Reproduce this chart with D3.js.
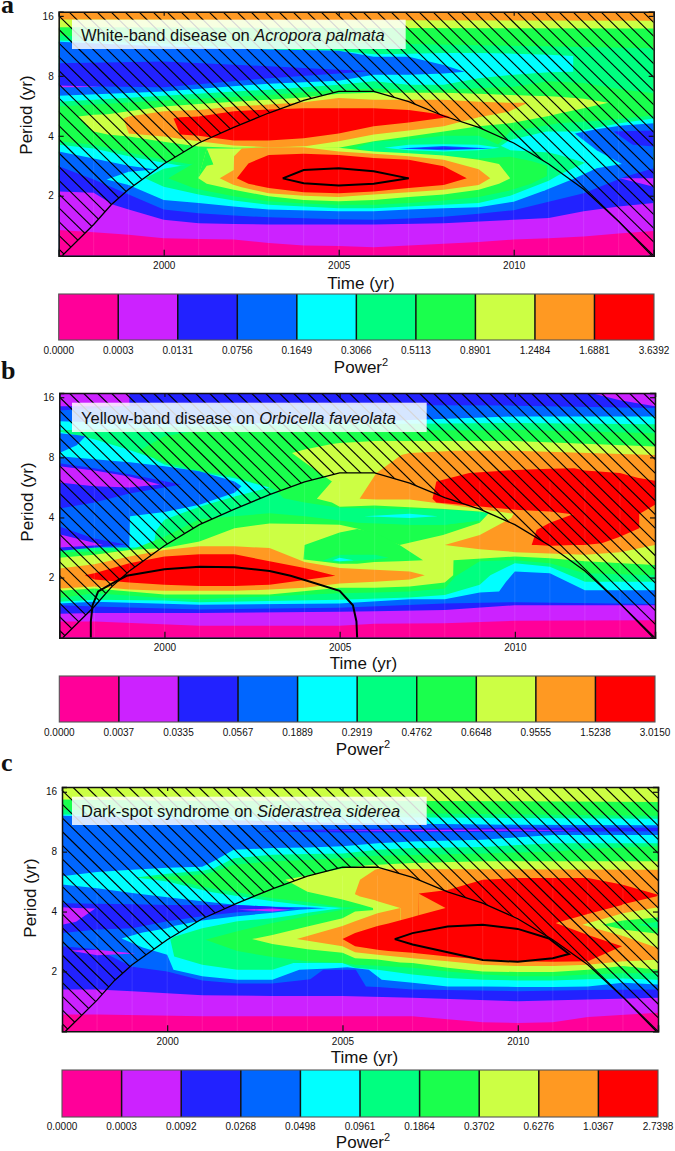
<!DOCTYPE html>
<html><head><meta charset="utf-8">
<script src="https://cdn.jsdelivr.net/npm/d3@7"></script>
<style>html,body{margin:0;padding:0;background:#fff}svg{display:block}text{font-family:"Liberation Sans",Arial,sans-serif;fill:#111}</style>
</head><body><svg id="c" width="675" height="1151"></svg>
<script>
// power classes: colour of each band, lowest to highest
const bandColors = ["#ff0099","#cc22ff","#2222ff","#0066ff","#00ffff","#00ff80","#1aff4d","#ccff44","#ff9922","#ff0000"];
const yearTicks = [2000,2005,2010];
const periodTicks = [1,2,3,4]; // log2(period): 2,4,8,16 yr
// cone of influence: year / log2(period)
const coneYears = [1997.1,1998,1998.5,1999,2000,2001,2002,2003,2004,2005,2006,2007,2008,2009,2010,2011,2012,2013,2013.95];
const coneOct   = [0,.52,.85,1.11,1.53,1.88,2.14,2.38,2.59,2.74,2.74,2.57,2.33,2.14,1.88,1.53,1.11,.57,0];
const legendA = ["0.0000","0.0003","0.0131","0.0756","0.1649","0.3066","0.5113","0.8901","1.2484","1.6881","3.6392"];
const legendB = ["0.0000","0.0037","0.0335","0.0567","0.1889","0.2919","0.4762","0.6648","0.9555","1.5238","3.0150"];
const legendC = ["0.0000","0.0003","0.0092","0.0268","0.0498","0.0961","0.1864","0.3702","0.6276","1.0367","2.7398"];
// contour regions, painted in order. Each: [class, [[year, hi]] or [[year, lo, hi]]] in log2(period)
const layersA = [
[8,[[1997,4.2],[2014,4.2]]],[7,[[1997,3.94],[2014,3.92]]],[6,[[1997,3.81],[2014,3.79]]],
[5,[[1997,3.67],[2005,3.55],[2010,3.5],[2014,3.46]]],
[4,[[1997,2.57,3.59],[2000,2.67,3.54],[2003,2.77,3.44],[2005,2.85,3.42],[2006,2.91,3.36],[2007,2.85,3.37],[2008,2.85,3.38],[2009,2.96,3.38],[2010,3.02,3.37],[2011,3.06,3.35],[2011.7,3.07,3.33]]],
[3,[[1997,2.67,3.57],[2000,2.74,3.49],[2003,2.87,3.44],[2005,2.92,3.42],[2006,3.02,3.32],[2007,3.02,3.32],[2008,3.04,3.18],[2008.6,3.07,3.07]]],
[2,[[1997,2.83,3.21],[2000,2.81,3.24],[2003,2.96,3.16],[2005,3.04,3.1],[2006,3.08,3.08]]],
[1,[[1997,2.81,2.84],[1997.5,2.81,2.83],[1998.2,2.82,2.82]]],
[6,[[1997,2.49],[2000,2.59],[2003,2.68],[2005,2.77],[2006,2.79],[2007,2.76],[2008,2.77],[2010,2.82],[2011,2.91],[2012,2.88],[2013,2.78],[2014,2.71]]],
[5,[[1997,1.91],[1998,1.85],[1999,1.72],[2000,1.6],[2001,1.5],[2009,1.5],[2009.9,2.07],[2011.3,2.21],[2012.6,2.26],[2014,2.34]]],
[4,[[1997,1.85],[1998,1.79],[1999,1.66],[2000,1.55],[2000.5,1.5],[2009,1.6],[2009.9,1.93],[2010.94,2.07],[2011.8,2.07],[2013.03,2.21],[2014,2.29]]],
[3,[[1997,1.74],[1998,1.62],[1999,1.5],[2000,1.42],[2001,1.4],[2005,1.4],[2010,1],[2010.9,1.09],[2011.75,1.29],[2012.37,1.46],[2013.09,1.53],[2014,1.5]]],
[3,[[2011.75,2.04,2.04],[2012.37,1.76,2.11],[2013.09,1.53,2.17],[2014,1.4,2.21]]],
[2,[[2012.85,2.07,2.07],[2013.4,1.85,2.08],[2014,1.82,2.09]]],
[2,[[1997,1.49],[1998,1.27],[1999,1.02],[2000,.77],[2001,.71],[2002,.67],[2003,.64],[2005,.61],[2006,.6],[2007,.62],[2008,.65],[2009,.7],[2010,.76],[2011,.9],[2012,1.04],[2013.2,1.32],[2014,1.46]]],
[1,[[2013.03,1.29,1.29],[2014,1.15,1.29]]],
[1,[[1997,1.07],[1998,1.05],[1998.56,.85],[1999,.77],[2000,.6],[2001,.54],[2002,.53],[2003,.52],[2006,.52],[2008,.54],[2010,.6],[2011,.63],[2012,.74],[2013,.82],[2014,.88]]],
[0,[[1997,.43],[1998,.39],[1999,.35],[2000,.29],[2001,.28],[2002,.27],[2003,.21],[2004,.17],[2005,.16],[2006,.14],[2007,.17],[2008,.2],[2009,.23],[2010,.27],[2011,.29],[2012,.32],[2013,.37],[2014,.41]]],
[4,[[1998.37,1.27,1.27],[1999,1.18,1.4],[2000,.93,1.45],[2001,.88,1.5],[2002,.82,1.6],[2003,.77,1.6],[2005,.74,1.6],[2006,.74,1.6],[2007,.77,1.6],[2008,.79,1.6],[2009,.81,1.6],[2010,.9,1.6],[2010.9,1.09,1.6]]],
[5,[[1999.47,1.29,1.29],[2000,1.15,1.45],[2001,1.02,1.55],[2002,.92,1.6],[2003,.85,1.6],[2004,.82,1.6],[2005,.79,1.6],[2005.47,.79,1.8],[2006,.79,1.9],[2007,.82,1.94],[2008,.85,2],[2009,.88,2],[2009.9,1,1.76],[2011,1.25,1.72],[2011.3,1.35,1.68],[2012.04,1.55,1.55]]],
[6,[[2000.13,1.29,1.29],[2000.85,1.13,1.54],[2001.23,1.08,1.81],[2002,.99,1.85],[2003,.91,1.85],[2004,.87,1.85],[2005,.85,1.8],[2005.47,.85,1.8],[2006,.85,1.72],[2007,.88,1.68],[2008,.92,1.66],[2009,.98,1.62],[2009.9,1.09,1.65],[2010.5,1.2,1.58],[2010.95,1.33,1.5]]],
[4,[[2006.3,1.8,1.8],[2007,1.76,1.85],[2008,1.74,1.86],[2009,1.76,1.85],[2009.6,1.8,1.8]]],
[3,[[2006.7,1.79,1.79],[2008,1.76,1.83],[2009.4,1.79,1.79]]],
[2,[[2006.9,1.79,1.79],[2008,1.78,1.81],[2009.2,1.79,1.79]]],
[7,[[1997.56,2.32,2.32],[1998,2.07,2.35],[1998.4,2.02,2.36],[1999,1.99,2.41],[2000,1.9,2.49],[2001,1.82,2.53],[2002,1.8,2.57],[2003,1.8,2.6],[2004,1.8,2.64],[2005,1.8,2.7],[2006,1.91,2.72],[2007,1.99,2.72],[2008,2.07,2.72],[2009,2.16,2.7],[2009.9,2.21,2.68],[2011,2.33,2.66],[2011.3,2.37,2.65],[2012,2.46,2.62],[2012.7,2.55,2.55]]],
[8,[[1998.85,2.29,2.29],[1999,2.04,2.32],[2000,1.99,2.41],[2001,1.91,2.43],[2002,1.84,2.49],[2003,1.81,2.52],[2004,1.82,2.56],[2005,1.91,2.63],[2006,2.02,2.6],[2007,2.09,2.6],[2008,2.16,2.6],[2009,2.31,2.57],[2009.85,2.4,2.55],[2010.4,2.55,2.55]]],
[9,[[2000.28,2.29,2.29],[2000.47,2.02,2.31],[2001,2,2.32],[2002,1.92,2.41],[2003,1.92,2.44],[2004,1.96,2.46],[2005,2.04,2.46],[2006,2.16,2.46],[2007,2.22,2.43],[2008,2.3,2.35],[2008.2,2.31,2.31]]],
[7,[[2000.99,1.29,1.29],[2001.23,1.2,1.79],[2002,1.1,1.79],[2003,.99,1.8],[2004,.93,1.82],[2005,.91,1.8],[2006,.93,1.74],[2007,.98,1.71],[2008,1.02,1.67],[2009,1.1,1.6],[2009.58,1.2,1.53],[2009.9,1.29,1.29]]],
[6,[[2000.99,1.3,1.3],[2001.23,1.5,1.79],[2001.42,1.52,1.52]]],
[8,[[2001.6,1.29,1.29],[2002,1.18,1.43],[2002.01,1.18,1.66],[2002.23,1.14,1.79],[2003,1.04,1.81],[2004,1,1.81],[2005,.98,1.74],[2006,1.02,1.7],[2007,1.06,1.66],[2008,1.1,1.6],[2009,1.18,1.44],[2009.33,1.29,1.29]]],
[9,[[2002.09,1.29,1.29],[2002.42,1.2,1.54],[2003,1.13,1.68],[2004,1.06,1.7],[2005,1.04,1.68],[2006,1.07,1.63],[2007,1.13,1.6],[2008,1.18,1.49],[2008.66,1.29,1.29]]]
];
const contourA = [[2003.4,1.29],[2004,1.43],[2005,1.46],[2006,1.41],[2007,1.29],[2006,1.2],[2005,1.17],[2004,1.21],[2003.4,1.29]];

const layersB = [
[2,[[1997,4.2],[2014,4.2]]],
[1,[[1997,3.85,4.2],[1999,3.85,4.2]]],
[1,[[2012.1,4.08,4.2],[2013,3.95,4.2],[2014,3.85,4.2]]],
[3,[[1997,3.78],[1999,3.85],[2000,3.88],[2010,3.86],[2014,3.82]]],
[4,[[1997,3.6],[2000,3.55],[2005,3.58],[2010,3.68],[2014,3.68]]],
[5,[[1997,3.45],[2000,3.5],[2005,3.55],[2010,3.57],[2014,3.55]]],
[6,[[1999.25,3.1,3.1],[2000,2.92,3.35],[2001,2.78,3.45],[2002,2.68,3.45],[2003,2.5,3.45],[2003.2,2.45,3.45],[2003.4,2.32,3.45],[2004,2.25,3.45],[2005,2.16,3.45],[2006,2.15,3.45],[2007,2.14,3.45],[2008,2.13,3.45],[2009,2.09,3.45],[2009.3,2.06,3.45],[2010,1.5,3.46],[2014,1.5,3.4]]],
[4,[[1997,1.5,3.43],[1998,1.5,3.3],[1999,1.5,3.12],[1999.7,1.5,2.98],[1999.75,1.77,2.95],[2000,1.96,2.88],[2001,2.18,2.75],[2002,2.35,2.65],[2003,2.5,2.5]]],
[3,[[1997,3.07,3.4],[1997.5,3.2,3.37],[1997.75,3.35,3.35]]],
[3,[[1997,1.5,3.02],[1999,1.5,2.92],[1999.02,2.02,2.92],[2000,2.09,2.85],[2001,2.21,2.77],[2002,2.41,2.6],[2002.2,2.52,2.52]]],
[2,[[1997,2.15,2.9],[1998,2.25,2.82],[1999,2.4,2.72],[2000.48,2.55,2.55]]],
[1,[[1997,2.58,2.85],[1998,2.52,2.78],[1999,2.5,2.68],[1999.87,2.55,2.55]]],
[2,[[1997,1.44,1.85],[1998,1.5,1.65],[1998.9,1.55,1.55]]],
[1,[[1997,1.5,1.72],[1998.25,1.54,1.54]]],
[6,[[1997,1.42],[1999,1.45],[2000,1.68],[2001,1.97],[2002,2.02],[2003,2.07],[2004,2.02],[2005,1.95],[2006,1.91],[2007,1.88],[2008,1.88],[2009,1.95],[2009.3,2.06],[2014,2]]],
[5,[[2005,1.95,1.95],[2005.5,1.91,2.05],[2007,1.88,2.14],[2008,1.88,2.13],[2009,1.95,2.09],[2009.3,2.06,2.06]]],
[4,[[2005.7,2.02,2.02],[2007,1.99,2.06],[2007.8,2.02,2.02]]],
[7,[[2003.64,3.07,3.07],[2004,2.92,3.13],[2004.78,2.6,3.22],[2005,2.18,3.24],[2006,2.2,3.27],[2007,2.17,3.27],[2008,2.14,3.27],[2009,2.1,3.27],[2009.3,2.07,3.27],[2010,1.6,3.27],[2014,1.6,3.18]]],
[7,[[2004.35,2.31,2.31],[2004.78,2.25,2.6],[2005,2.18,2.7]]],
[7,[[1997,.7,1.33],[1998,.7,1.38],[1999,.7,1.46],[2000,.7,1.49],[2001,.7,1.6],[2002,.7,1.82],[2003,.7,1.9],[2004,.7,1.89],[2005,.7,1.88],[2005.55,.7,1.81],[2006.71,.7,1.54],[2007.95,.7,1.71],[2009,.7,1.91],[2009.24,.7,2.06],[2010,.7,1.9],[2014,.7,1.7]]],
[6,[[2003.97,1.3,1.3],[2004,1.3,1.54],[2005,1.23,1.75],[2005.5,1.23,1.81],[2006,1.26,1.75],[2006.71,1.27,1.54],[2007.38,1.29,1.29]]],
[5,[[2004.5,1.28,1.28],[2005,1.26,1.38],[2006,1.3,1.38],[2006.4,1.33,1.33]]],
[4,[[2004.8,1.29,1.29],[2005,1.27,1.33],[2005.4,1.29,1.29]]],
[8,[[2005.57,2.31,2.31],[2006.05,2.3,2.74],[2006.76,2.3,3.04],[2007,2.3,3.07],[2008.28,2.2,3.11],[2010,2.06,3.11],[2014,2.06,3.04]]],
[8,[[2008,1.54,1.54],[2009,1.47,1.71],[2009.9,1.43,1.99],[2010,1.42,2.1],[2011,1.4,2.5],[2012,1.38,2.5],[2013,1.42,2.5],[2014,1.54,2.5]]],
[9,[[2007.65,2.31,2.31],[2007.76,2.25,2.6],[2008.7,2.2,2.74],[2010,2.13,2.79],[2011,2.1,2.81],[2011.7,2.05,2.82],[2012,2.1,2.78],[2013,2.15,2.74],[2013.5,2.04,2.66],[2014,2.21,2.61]]],
[9,[[2010.48,1.54,1.54],[2010.62,1.54,1.79],[2011,1.53,1.91],[2011.7,1.54,2.06],[2012,1.54,2.2],[2012.48,1.57,2.5],[2013,1.68,2.6],[2013.55,1.82,2.6]]],
[6,[[1997,.78],[1998,.82],[2000,.72],[2001,.72],[2003,.72],[2005,.83],[2006,.83],[2007,.85],[2008,.92],[2008.24,1.04],[2008.25,1.29],[2010,1.35],[2011,1.32],[2012,1.27],[2014,1.21]]],
[5,[[1997,.66],[1998,.74],[2000,.66],[2001,.64],[2005,.74],[2006,.75],[2007,.77],[2008,.82],[2008.3,1.02],[2009,1.27],[2010,1.29],[2011,1.24],[2012,1.07],[2014,1.04]]],
[4,[[1997,.6],[1998,.63],[2000,.62],[2001,.59],[2005,.63],[2007,.67],[2008,.71],[2009,.88],[2009.3,1.04],[2010,1.24],[2011,1.18],[2012,.93],[2014,.93]]],
[3,[[1997,.57],[1998,.6],[2001,.55],[2005,.57],[2007,.64],[2008,.64],[2009,.75],[2009.55,.77],[2009.75,.93],[2010,1.1],[2011,1.07],[2012,.79],[2014,.79]]],
[2,[[1997,.54],[1998,.52],[2001,.47],[2005,.5],[2008,.57],[2010,.59],[2014,.56]]],
[1,[[1997,.4],[1998,.41],[2001,.41],[2005,.43],[2006,.44],[2008,.46],[2010,.54],[2014,.54]]],
[0,[[1997,.27],[1998,.27],[2001,.2],[2005,.2],[2006,.23],[2008,.24],[2010,.28],[2014,.29]]],
[8,[[1997,.82,1.15],[1998,.85,1.22],[1999,.8,1.35],[2000,.78,1.46],[2001,.78,1.52],[2002,.78,1.52],[2003,.8,1.49],[2004,.83,1.26],[2005,.9,1.16],[2006,.93,1.13],[2007,.97,1.1],[2007.43,1.04,1.04]]],
[9,[[1997.73,1.04,1.04],[1998,.97,1.07],[1999,.92,1.24],[2000,.88,1.35],[2001,.86,1.39],[2002,.86,1.39],[2003,.88,1.27],[2004,.96,1.16],[2004.88,1.03,1.03]]]
];
const contourB = [[1997.9,0],[1997.9,.27],[1997.95,.54],[1998.11,.77],[1998.54,.91],[1998.92,1.03],[2000,1.14],[2001,1.18],[2002,1.17],[2003,1.11],[2003.6,1.03],[2004,.96],[2005,.78],[2005.38,.54],[2005.48,.27],[2005.5,0]];

const layersC = [
[7,[[1997,4.2],[2014,4.2]]],
[6,[[1997,3.87],[2000,3.85],[2005,3.85],[2010,3.84],[2014,3.83]]],
[5,[[1997,3.7],[2005,3.65],[2014,3.6]]],
[4,[[1997,3.62],[2005,3.58],[2014,3.55]]],
[3,[[1997,3.6],[2000,3.55],[2005,3.48],[2010,3.45],[2014,3.44]]],
[2,[[2002.4,3.34,3.34],[2005,3.32,3.38],[2010,3.33,3.4],[2014,3.34,3.4]]],
[1,[[2004,3.35,3.35],[2007,3.34,3.36],[2010,3.35,3.37],[2012,3.35,3.35]]],
[4,[[1997,2.59],[1998,2.66],[1999,2.7],[2000,2.73],[2001,2.75],[2001.32,2.84],[2001.9,3.03],[2003,3.06],[2004,3.07],[2005,3.09],[2006,3.14],[2007,3.17],[2009,3.2],[2011,3.28],[2014,3.28]]],
[5,[[1999.1,2.57,2.57],[2000,2.5,2.63],[2001,2.36,2.68],[2001.32,2.32,2.72],[2001.9,2.27,2.89],[2003,2.17,2.95],[2004,2.1,2.96],[2005,2.06,2.97],[2006,1,3.03],[2007,1,3.06],[2009,1,3.08],[2011,1,3.14],[2014,1,3.14]]],
[6,[[1999.1,2.57,2.57],[2000,2.55,2.58],[2001,2.42,2.62],[2001.32,2.38,2.66],[2001.9,2.33,2.78],[2003,2.22,2.84],[2004,2.16,2.86],[2005,2.07,2.89],[2005.87,2.06,2.93],[2006,1,2.93],[2009,1,2.97],[2011,1,3],[2012,1,3.05],[2014,1,3.09]]],
[7,[[2003.37,2.53,2.53],[2004,2.33,2.6],[2005,2.2,2.72],[2005.5,2.12,2.76],[2005.87,2.06,2.78],[2006,1,2.78],[2007,1,2.81],[2009,1,2.84],[2014,1,2.84]]],
[8,[[2005.36,2.29,2.3],[2005.5,2.25,2.53],[2005.93,2.19,2.7],[2006,2.17,2.71],[2006.65,2.06,2.71],[2006.66,1,2.71],[2014,1,2.7]]],
[3,[[1997,2.45],[1998,2.39],[1999,2.31],[2000,2.24],[2001,2.17],[2002,2.11],[2003,2.08],[2004,2.07],[2004.65,2.05],[2005,1.2],[2014,1.2]]],
[2,[[1997,1.64,2.14],[1998,1.7,2.13],[1999,1.72,2.12],[2000,1.84,2.11],[2001,1.92,2.11],[2002,1.99,2.11],[2003,2.02,2.08],[2003.66,2.05,2.05]]],
[1,[[1997,1.78,2.07],[1997.4,1.83,2.06],[1997.95,2.05,2.05]]],
[1,[[2002,2.03,2.03],[2003,2,2.05],[2003.5,2.03,2.03]]],
[2,[[1997,1.42],[1998,1.37],[1999,1.08],[2000,1],[2001,.85],[2002,.8],[2003,.8],[2004.08,.87],[2004.45,1.03],[2005.38,1.03],[2005.67,.75],[2006,.74],[2007,.7],[2010,.67],[2012,.69],[2014,.7]]],
[1,[[1997.2,1.35,1.35],[1998,1.27,1.36],[1999.1,1.3,1.3]]],
[1,[[1997,.7],[1998,.7],[1999,.67],[2001,.6],[2003,.59],[2005,.59],[2007,.56],[2010,.5],[2012,.53],[2014,.56]]],
[0,[[1997,.28],[1998,.28],[2001,.25],[2005,.25],[2007,.25],[2008,.2],[2009,.15],[2010,.14],[2011,.15],[2012,.24],[2014,.31]]],
[4,[[1998.7,1.55,1.55],[1999.3,1.4,1.65],[2000,1.28,1.72],[2000.18,1.03,1.76],[2001,.92,1.85],[2002,.86,1.92],[2003,.86,1.98],[2003.77,1.03,2.03],[2004.6,1.05,2.06],[2005.13,1.07,2.06],[2005.14,1.07,1.5],[2005.75,1.03,1.5],[2006.12,.86,1.5],[2007,.81,1.5],[2008,.75,1.5],[2009,.75,1.5],[2010,.74,1.5],[2011,.74,1.5],[2012,.75,1.5],[2013,.81,1.5],[2014,.78,1.5]]],
[5,[[2000.09,1.53,1.53],[2000.2,1.25,1.58],[2001,1.11,1.72],[2002,1.03,1.84],[2003,1.03,1.89],[2003.6,1.14,1.94],[2004,1.14,1.98],[2005,1.14,2.06],[2005.36,1.06,2.06],[2005.37,1.06,1.5],[2006,1.03,1.5],[2007,.95,1.5],[2008,.89,1.5],[2009,.86,1.5],[2010,.85,1.5],[2011,.85,1.5],[2012,.87,1.5],[2013,.88,1.5],[2014,.86,1.5]]],
[6,[[2001.09,1.53,1.53],[2002,1.34,1.67],[2003,1.24,1.81],[2004,1.17,1.92],[2005,1.14,2.03],[2005.36,1.11,2.06],[2005.87,1.1,2.06],[2005.88,1.1,1.5],[2007,1.06,1.5],[2008,1,1.5],[2009,.95,1.5],[2010,.92,1.5],[2011,.92,1.5],[2012,.95,1.5],[2013,.97,1.5],[2014,.97,1.5]]],
[7,[[2002.42,1.54,1.54],[2003,1.46,1.61],[2004,1.37,1.75],[2005,1.31,1.89],[2005.36,1.22,2],[2006,1.2,2.03],[2006.65,1.15,2.06],[2006.66,1.15,1.5],[2007,1.14,1.5],[2008,1.06,1.5],[2009,1,1.5],[2010,.99,1.5],[2011,.99,1.5],[2012,1.03,1.5],[2013,1.09,1.5],[2014,1.03,1.5]]],
[8,[[2003.7,1.54,1.54],[2005,1.42,1.76],[2005.36,1.32,1.84],[2006,1.28,1.97],[2006.65,1.24,2.06],[2006.66,1.24,1.5],[2007,1.22,1.5],[2008,1.17,1.5],[2009,1.11,1.5],[2010,1.09,1.5],[2011,1.09,1.5],[2012,1.11,1.5],[2013,1.17,1.5],[2014,1.2,1.5]]],
[9,[[2005,1.54,1.54],[2005.36,1.42,1.64],[2006,1.36,1.76],[2006.31,1.34,1.8],[2007,1.31,1.91],[2007.17,1.3,1.94],[2007.18,1.3,2.3],[2008,1.25,2.36],[2009,1.2,2.53],[2010,1.17,2.56],[2011,1.16,2.56],[2012,1.17,2.56],[2012.97,1.42,2.45],[2014,2.28,2.28]]],
[8,[[2007.17,1.94,2.3],[2007.94,2.06,2.06]]],
[8,[[2011.08,1.81,1.81],[2012,1.61,1.96],[2012.97,1.42,2.11],[2013,1.17,2.12],[2014,1.2,2.26]]],
[7,[[2011.84,1.78,1.78],[2013,1.59,1.97],[2014,1.39,2.07]]],
[6,[[2012.41,1.78,1.78],[2013,1.7,1.85],[2014,1.63,1.9]]],
[5,[[2013.4,1.78,1.78],[2014,1.72,1.83]]]
];
const contourC = [[2006.49,1.54],[2007,1.64],[2008,1.75],[2009,1.78],[2010,1.71],[2010.89,1.55],[2011.46,1.29],[2011,1.22],[2010,1.16],[2009,1.19],[2008,1.32],[2007,1.45],[2006.49,1.54]];

const panels = [
 {letter:"a",letterBase:13,layers:layersA,contour:contourA,legend:legendA,left:58.7,right:653.7,top:11.7,bot:255.7,topOct:4.07,
  title:["White-band disease on ","Acropora palmata"],box:[72,19.7,333.7,29.3],titleBase:41,
  tickY:265,timeX:361,timeY:289,barX:[58.7,654],barY:[294,340],legY:354,powerX:361,powerY:373,periodX:32,periodY:115},
 {letter:"b",letterBase:379,layers:layersB,contour:contourB,legend:legendB,left:59.3,right:655,top:393,bot:637.7,topOct:4.07,
  title:["Yellow-band disease on ","Orbicella faveolata"],box:[72,402.7,354.7,29.3],titleBase:424,
  tickY:647,timeX:363.5,timeY:669,barX:[59.3,655],barY:[676,722],legY:736,powerX:363,powerY:755,periodX:33,periodY:502},
 {letter:"c",letterBase:771,layers:layersC,contour:contourC,legend:legendC,left:62,right:658,top:787,bot:1031.3,topOct:4.08,
  title:["Dark-spot syndrome on ","Siderastrea siderea"],box:[72,796.7,354.7,28.3],titleBase:817,
  tickY:1041,timeX:364.5,timeY:1063,barX:[62,658],barY:[1070,1117],legY:1130,powerX:363,powerY:1147.5,periodX:36,periodY:898}
];

const svg = d3.select("#c");
panels.forEach((p,pi)=>{
  const g = svg.append("g");
  const x = d3.scaleLinear([1997,2014],[p.left,p.right]);
  const y = d3.scaleLinear([0,p.topOct],[p.bot,p.top]);
  const clipId="plot"+pi, coneId="cone"+pi;
  const defs=g.append("defs");
  defs.append("clipPath").attr("id",clipId).append("rect")
    .attr("x",p.left).attr("y",p.top).attr("width",p.right-p.left).attr("height",p.bot-p.top);
  const conePts = coneYears.map((v,i)=>[x(v),y(coneOct[i])]);
  defs.append("clipPath").attr("id",coneId).append("path")
    .attr("d",d3.line()([[p.left,p.bot],...conePts,[p.right,p.bot],[p.right,p.top],[p.left,p.top]])+"Z");
  const area = d3.area().x(d=>x(d[0])).y0(d=>y(d.length===2?0:d[1])).y1(d=>y(d[d.length-1]));
  const plot=g.append("g").attr("clip-path",`url(#${clipId})`);
  plot.selectAll("path.band").data(p.layers).join("path").attr("class","band")
    .attr("d",d=>area(d[1])).attr("fill",d=>bandColors[d[0]]);
  // faint seams at the yearly grid columns of the contour surface
  plot.selectAll("line.seam").data(d3.range(1998,2014)).join("line").attr("class","seam")
    .attr("x1",d=>x(d)).attr("x2",d=>x(d)).attr("y1",y(2.6)).attr("y2",p.bot)
    .attr("stroke","#fff").attr("stroke-opacity",.1);
  // hatching outside the cone of influence
  const spacing=14, slope=.98, h=p.bot-p.top;
  const hatch=plot.append("g").attr("clip-path",`url(#${coneId})`);
  const offs=d3.range(-70,60).map(k=>p.right+k*spacing);
  hatch.selectAll("line").data(offs).join("line")
    .attr("x1",d=>d).attr("y1",p.bot).attr("x2",d=>d-h/slope).attr("y2",p.top)
    .attr("stroke","#000").attr("stroke-width",1.1);
  plot.append("path").attr("d",d3.line()(conePts)).attr("fill","none").attr("stroke","#000").attr("stroke-width",1.3);
  plot.append("path").attr("d",d3.line().x(d=>x(d[0])).y(d=>y(d[1]))(p.contour))
    .attr("fill","none").attr("stroke","#000").attr("stroke-width",2);
  g.append("rect").attr("x",p.box[0]).attr("y",p.box[1]).attr("width",p.box[2]).attr("height",p.box[3])
    .attr("fill","#fff").attr("fill-opacity",.84);
  const t=g.append("text").attr("x",81).attr("y",p.titleBase).attr("font-size",16.5).attr("fill","#111");
  t.append("tspan").text(p.title[0]);
  t.append("tspan").attr("font-style","italic").text(p.title[1]);
  // axes
  const tf=a=>a.selectAll("text").style("font-size","10px").style("font-family",'"Liberation Sans",Arial,sans-serif').attr("fill","#222");
  const xb=g.append("g").attr("transform",`translate(0,${p.bot})`)
    .call(d3.axisBottom(x).tickValues(yearTicks).tickFormat(d3.format("d")).tickSize(-6));
  xb.selectAll("text").attr("y",null).attr("dy",null).attr("transform",`translate(0,${p.tickY-p.bot+3.5})`); tf(xb);
  const xt=g.append("g").attr("transform",`translate(0,${p.top})`)
    .call(d3.axisTop(x).tickValues(yearTicks).tickFormat("").tickSize(-4));
  const yl=g.append("g").attr("transform",`translate(${p.left},0)`)
    .call(d3.axisLeft(y).tickValues(periodTicks).tickFormat(d=>Math.pow(2,d)).tickSize(-5));
  yl.selectAll("text").attr("x",-5); tf(yl);
  const yr=g.append("g").attr("transform",`translate(${p.right},0)`)
    .call(d3.axisRight(y).tickValues(periodTicks).tickFormat("").tickSize(-5));
  [xb,xt,yl,yr].forEach(a=>{a.select(".domain").attr("stroke","#111").attr("stroke-width",1.5);a.selectAll("line").attr("stroke","#111").attr("stroke-width",1.2);});
  g.append("text").attr("x",p.timeX).attr("y",p.timeY).attr("text-anchor","middle").attr("font-size",17).text("Time (yr)");
  g.append("text").attr("transform",`translate(${p.periodX},${p.periodY}) rotate(-90)`).attr("text-anchor","middle").attr("font-size",17).text("Period (yr)");
  g.append("text").attr("x",1).attr("y",p.letterBase).attr("font-size",26).attr("font-weight","bold")
    .style("font-family",'"Liberation Serif",serif').text(p.letter);
  // colour key
  const kx=d3.scaleLinear([0,10],p.barX);
  g.selectAll("rect.key").data(bandColors).join("rect").attr("class","key")
    .attr("x",(d,i)=>kx(i)).attr("y",p.barY[0]).attr("width",kx(1)-kx(0)).attr("height",p.barY[1]-p.barY[0]).attr("fill",d=>d);
  g.selectAll("line.key").data(d3.range(1,10)).join("line").attr("class","key")
    .attr("x1",d=>kx(d)).attr("x2",d=>kx(d)).attr("y1",p.barY[0]).attr("y2",p.barY[1]).attr("stroke","#111").attr("stroke-width",1.5);
  g.append("rect").attr("x",p.barX[0]).attr("y",p.barY[0]).attr("width",p.barX[1]-p.barX[0]).attr("height",p.barY[1]-p.barY[0])
    .attr("fill","none").attr("stroke","#555").attr("stroke-width",1.1);
  g.selectAll("text.key").data(p.legend).join("text").attr("class","key")
    .attr("x",(d,i)=>kx(i)).attr("y",p.legY).attr("text-anchor","middle").attr("font-size",10).attr("fill","#222").text(d=>d);
  const pw=g.append("text").attr("x",p.powerX).attr("y",p.powerY).attr("text-anchor","middle").attr("font-size",17);
  pw.append("tspan").text("Power");
  pw.append("tspan").attr("font-size",11).attr("dy",-7).text("2");
});
</script></body></html>
